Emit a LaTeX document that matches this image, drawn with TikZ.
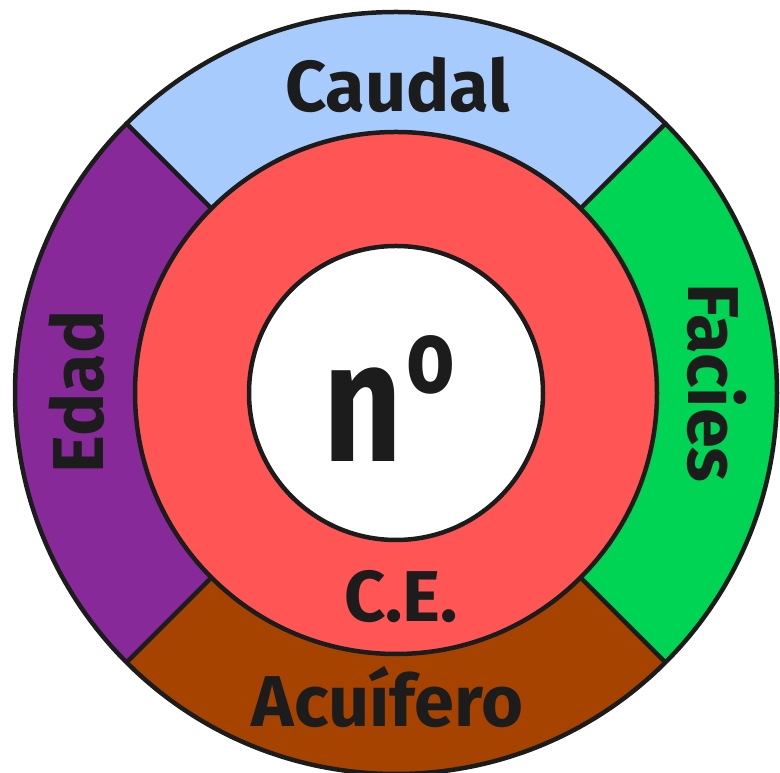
\documentclass[tikz,border=0pt]{standalone}
\usepackage{fontspec}
\usetikzlibrary{calc}
\setmainfont{Fira Sans}[BoldFont={Fira Sans Bold}]
\definecolor{cblue}{HTML}{A8CBFD}
\definecolor{cgreen}{HTML}{00D455}
\definecolor{cpurple}{HTML}{88299A}
\definecolor{cbrown}{HTML}{A64300}
\definecolor{cred}{HTML}{FF5555}
\definecolor{ink}{HTML}{1C1C1C}
\tikzset{
  ring/.style={draw=ink,line width=4.5pt},
  lbl/.style={text=ink,font=\bfseries\fontsize{72}{72}\selectfont,inner sep=0pt,anchor=base},
}
\begin{document}
\begin{tikzpicture}[x=1pt,y=1pt]
\useasboundingbox (0,0) rectangle (780,773);
\coordinate (C) at (396,380);
\def\Ra{381}\def\Rb{261}\def\Rc{147}
% sectors
\fill[cblue]   (C) -- ++(45:\Ra)  arc[start angle=45,end angle=135,radius=\Ra] -- cycle;
\fill[cpurple] (C) -- ++(135:\Ra) arc[start angle=135,end angle=225,radius=\Ra] -- cycle;
\fill[cbrown]  (C) -- ++(225:\Ra) arc[start angle=225,end angle=315,radius=\Ra] -- cycle;
\fill[cgreen]  (C) -- ++(315:\Ra) arc[start angle=315,end angle=405,radius=\Ra] -- cycle;
% dividers
\foreach \a [count=\i] in {45,135,225,315}{
  \coordinate (o\i) at ($(C)+(\a:\Ra)$);
  \coordinate (m\i) at ($(C)+(\a:\Rb)$);
  \draw[ring] (m\i) -- (o\i);
}
\draw[ring] (C) circle[radius=\Ra];
\draw[ring,fill=cred] (C) circle[radius=\Rb];
\draw[ring,fill=white] (C) circle[radius=\Rc];
% labels
\node[lbl] (caudal) at (397.5,661) {Caudal};
\node[lbl] (ce) at (401,151) {C.E.};
\node[lbl] (acuifero) at (387.5,46) {Acuífero};
\node[lbl,rotate=90] (edad) at (103,381) {Edad};
\node[lbl,rotate=-90] (facies) at (688,390) {Facies};
\node[lbl,font=\bfseries\fontsize{171}{171}\selectfont] (num) at (389.5,311)
  {\scalebox{0.8}[1]{n}\hspace{4pt}\raisebox{69pt}{\scalebox{0.8}[1]{\fontsize{104}{104}\selectfont o}}};
\end{tikzpicture}
\end{document}
